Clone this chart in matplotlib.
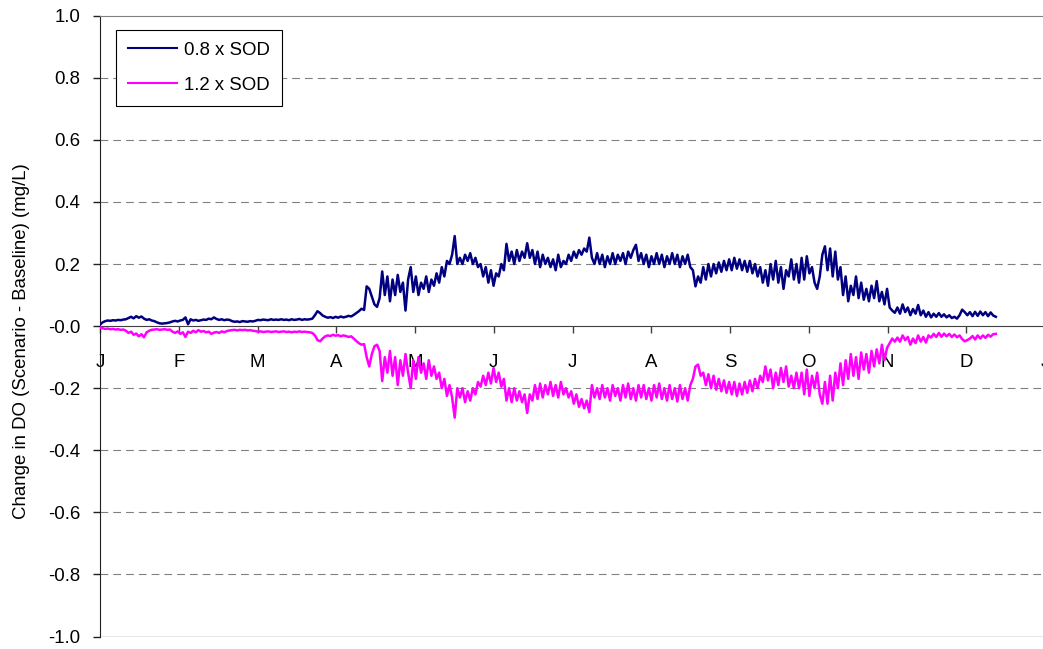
import numpy as np
import matplotlib
matplotlib.use("Agg")
import matplotlib.pyplot as plt

plt.rcParams['font.family'] = ['Liberation Sans', 'DejaVu Sans']
plt.rcParams['axes.unicode_minus'] = False

month_labels = ['J', 'F', 'M', 'A', 'M', 'J', 'J', 'A', 'S', 'O', 'N', 'D', 'J']

# daily change in DO (mg/L), day 0 = Jan 1
sod_08 = [
    0.005, 0.012, 0.016, 0.018, 0.017, 0.019, 0.018, 0.02, 0.019, 0.021,
    0.022, 0.026, 0.03, 0.025, 0.032, 0.027, 0.031, 0.024, 0.02, 0.022,
    0.018, 0.016, 0.012, 0.009, 0.008, 0.009, 0.01, 0.012, 0.015, 0.017,
    0.015, 0.018, 0.02, 0.028, 0.006, 0.022, 0.018, 0.02, 0.017, 0.019,
    0.021, 0.02, 0.024, 0.022, 0.028, 0.023, 0.02, 0.022, 0.019, 0.021,
    0.02, 0.016, 0.014, 0.015, 0.013, 0.016, 0.015, 0.014, 0.016, 0.015,
    0.017, 0.02, 0.019, 0.021, 0.02, 0.019, 0.022, 0.02, 0.021, 0.02,
    0.022, 0.02, 0.021, 0.019, 0.022, 0.02, 0.021, 0.023, 0.02, 0.022,
    0.021, 0.022, 0.024, 0.035, 0.048, 0.042, 0.034, 0.03, 0.027, 0.029,
    0.026, 0.03, 0.027, 0.031, 0.028, 0.03, 0.033, 0.031, 0.036, 0.042,
    0.048, 0.056, 0.052, 0.128, 0.12, 0.095, 0.07, 0.062, 0.09, 0.176,
    0.1, 0.16, 0.08, 0.15, 0.1, 0.165, 0.11, 0.14, 0.05, 0.15,
    0.19, 0.11, 0.16, 0.1, 0.14, 0.12, 0.16, 0.11, 0.15, 0.13,
    0.17, 0.14, 0.19, 0.16, 0.21, 0.2, 0.23, 0.29, 0.2, 0.22,
    0.2, 0.23, 0.21, 0.235, 0.2, 0.22, 0.19, 0.2, 0.16, 0.19,
    0.14, 0.18, 0.13, 0.17, 0.16, 0.2, 0.18, 0.265, 0.21, 0.24,
    0.2, 0.245, 0.21, 0.24, 0.22, 0.267, 0.22, 0.245, 0.2, 0.24,
    0.19, 0.23, 0.2, 0.22, 0.19, 0.215, 0.18, 0.23, 0.19, 0.21,
    0.2, 0.23, 0.21, 0.24, 0.22, 0.245, 0.23, 0.25, 0.24, 0.285,
    0.22, 0.2, 0.235, 0.2, 0.23, 0.19, 0.225, 0.2, 0.235, 0.2,
    0.23, 0.21, 0.235, 0.2, 0.24, 0.22, 0.245, 0.262, 0.21, 0.235,
    0.2, 0.23, 0.19, 0.225, 0.2, 0.235, 0.2, 0.23, 0.19, 0.225,
    0.2, 0.235, 0.2, 0.23, 0.19, 0.225, 0.2, 0.23, 0.19, 0.18,
    0.128, 0.16, 0.14, 0.19, 0.15, 0.2, 0.16, 0.2, 0.17, 0.205,
    0.175, 0.21, 0.18, 0.215, 0.18, 0.22, 0.185, 0.215, 0.18, 0.21,
    0.175, 0.21, 0.17, 0.2, 0.16, 0.19, 0.14, 0.18, 0.13, 0.2,
    0.15, 0.21, 0.14, 0.19, 0.12, 0.18, 0.16, 0.215, 0.15, 0.2,
    0.14, 0.22, 0.15, 0.225, 0.17, 0.19, 0.14, 0.12, 0.16, 0.23,
    0.257, 0.18, 0.25, 0.16, 0.24, 0.15, 0.19, 0.1, 0.16, 0.08,
    0.13, 0.1, 0.16, 0.09, 0.14, 0.085, 0.12, 0.08, 0.13, 0.09,
    0.145, 0.08, 0.11, 0.07, 0.12, 0.06, 0.05, 0.043, 0.06, 0.04,
    0.07, 0.045, 0.06, 0.035, 0.055, 0.04, 0.068, 0.035, 0.05, 0.03,
    0.045, 0.028, 0.04, 0.03, 0.042, 0.03, 0.038, 0.028, 0.035, 0.026,
    0.03, 0.024, 0.035, 0.053, 0.045, 0.035, 0.045, 0.032, 0.046, 0.033,
    0.047, 0.035, 0.045, 0.032, 0.044, 0.034, 0.03,
]

sod_12 = [
    -0.004, -0.007, -0.009, -0.008, -0.01, -0.009, -0.011, -0.01, -0.012, -0.011,
    -0.015, -0.022, -0.018, -0.028, -0.024, -0.033, -0.026, -0.036, -0.02, -0.015,
    -0.012, -0.011, -0.01, -0.012, -0.011, -0.01, -0.012, -0.011, -0.018, -0.022,
    -0.017, -0.025, -0.02, -0.035, -0.018, -0.022, -0.015, -0.02, -0.013, -0.018,
    -0.016, -0.02, -0.018, -0.025, -0.021, -0.019, -0.022, -0.017, -0.02, -0.016,
    -0.014, -0.013, -0.012, -0.014, -0.012, -0.013, -0.012, -0.014, -0.013, -0.015,
    -0.016, -0.018, -0.017, -0.019, -0.018, -0.017, -0.019, -0.018, -0.017, -0.019,
    -0.018, -0.017, -0.019, -0.018, -0.02, -0.018, -0.019, -0.017, -0.019, -0.018,
    -0.019, -0.02, -0.022, -0.03, -0.045, -0.049, -0.04, -0.033, -0.03, -0.032,
    -0.028, -0.031, -0.029, -0.033, -0.03, -0.032, -0.035, -0.033, -0.04, -0.048,
    -0.055, -0.06, -0.058, -0.1, -0.13, -0.09, -0.065, -0.06, -0.08, -0.177,
    -0.1, -0.15, -0.08, -0.16, -0.1, -0.19, -0.11, -0.16, -0.09, -0.15,
    -0.2, -0.11, -0.17, -0.1, -0.15, -0.12, -0.17, -0.11, -0.16, -0.13,
    -0.17, -0.15, -0.2, -0.17, -0.225, -0.19, -0.23, -0.295, -0.2, -0.23,
    -0.2, -0.245, -0.21, -0.24, -0.2, -0.22, -0.18, -0.195, -0.16, -0.19,
    -0.15, -0.185, -0.135, -0.18, -0.15, -0.195, -0.17, -0.24, -0.2, -0.245,
    -0.2, -0.24, -0.21, -0.245, -0.22, -0.28, -0.22, -0.24, -0.19, -0.235,
    -0.185, -0.23, -0.19, -0.22, -0.18, -0.225, -0.19, -0.23, -0.18, -0.22,
    -0.2, -0.23, -0.21, -0.25, -0.22, -0.26, -0.235, -0.265, -0.24, -0.277,
    -0.19, -0.23, -0.2, -0.235, -0.19, -0.23, -0.2, -0.24, -0.19, -0.225,
    -0.2, -0.24, -0.19, -0.23, -0.185, -0.235, -0.2, -0.24, -0.19, -0.23,
    -0.19, -0.235, -0.2, -0.24, -0.19, -0.23, -0.185, -0.235, -0.2, -0.24,
    -0.19, -0.235, -0.2, -0.243, -0.19, -0.235, -0.2, -0.24, -0.19, -0.17,
    -0.13, -0.124, -0.16, -0.15, -0.19, -0.155, -0.2, -0.16, -0.205, -0.17,
    -0.21, -0.175, -0.215, -0.18, -0.22, -0.18, -0.225, -0.185, -0.22, -0.18,
    -0.215, -0.175, -0.21, -0.17, -0.2, -0.16, -0.18, -0.13, -0.175, -0.14,
    -0.2, -0.15, -0.19, -0.135, -0.18, -0.13, -0.195, -0.16, -0.2, -0.15,
    -0.2, -0.15, -0.22, -0.14, -0.225, -0.16, -0.2, -0.15, -0.22, -0.25,
    -0.18, -0.25, -0.16, -0.24, -0.15, -0.2, -0.12, -0.19, -0.11, -0.17,
    -0.09, -0.16, -0.1, -0.17, -0.085, -0.14, -0.09, -0.15, -0.08, -0.13,
    -0.075, -0.12, -0.06, -0.11, -0.07, -0.055, -0.04, -0.05, -0.037, -0.05,
    -0.03, -0.045, -0.035, -0.06, -0.04, -0.055, -0.03, -0.05, -0.035, -0.053,
    -0.03, -0.037, -0.025, -0.035, -0.022, -0.034, -0.024, -0.033, -0.025, -0.035,
    -0.027, -0.036, -0.03, -0.042, -0.049, -0.045, -0.04, -0.032, -0.043, -0.03,
    -0.04, -0.03, -0.038, -0.028, -0.034, -0.026, -0.025,
]

days = np.arange(len(sod_08))
year_len = 365

W, H = 1043, 649
fig = plt.figure(figsize=(W / 100, H / 100), dpi=100)
ax = fig.add_axes([100 / W, 1 - 636.5 / H, 945 / W, 620.8 / H])

grey = '#808080'
for y in np.arange(-0.8, 0.81, 0.2):
    if abs(y) > 1e-6:
        ax.axhline(y, color=grey, lw=0.8, ls=(0, (7, 4.5)), zorder=1)
ax.axhline(-1.0, color=grey, lw=1.0, zorder=1)

ax.plot(days, sod_08, color='#000080', lw=1.8, label='0.8 x SOD', zorder=3)
ax.plot(days, sod_12, color='#FF00FF', lw=1.8, label='1.2 x SOD', zorder=3)

ax.set_xlim(0, year_len)
ax.set_ylim(-1.0, 1.0)
ax.set_yticks(np.round(np.arange(-1.0, 1.01, 0.2), 1))
ax.set_yticklabels(['%.1f' % v for v in np.arange(-1.0, 1.01, 0.2)])
ax.set_xticks(np.arange(13) * year_len / 12)
ax.set_xticklabels(month_labels)

ax.spines['bottom'].set_position(('data', 0))
ax.spines['bottom'].set_color('#404040')
ax.spines['bottom'].set_zorder(2)
ax.spines['left'].set_color('#202020')
ax.spines['top'].set_color(grey)
ax.spines['right'].set_visible(False)

ax.tick_params(axis='x', direction='out', length=5, width=1, color='#404040',
               pad=15, labelsize=13.4)
ax.tick_params(axis='y', direction='out', length=5, width=1, color='#202020',
               pad=9, labelsize=13.4)

ax.set_ylabel('Change in DO (Scenario - Baseline) (mg/L)', fontsize=13.4)
ax.yaxis.set_label_coords(-70 / 945, 0.476)

leg = ax.legend(loc='upper left', bbox_to_anchor=(115.7 / W, 1 - 29.7 / H),
                bbox_transform=fig.transFigure, borderaxespad=0,
                fontsize=13.4, handlelength=2.65, handletextpad=0.35,
                labelspacing=0.95, borderpad=0.66, fancybox=False,
                framealpha=1, edgecolor='black')
leg.get_frame().set_linewidth(0.8)
for line in leg.get_lines():
    line.set_linewidth(1.5)

fig.savefig('out.png', dpi=100)
